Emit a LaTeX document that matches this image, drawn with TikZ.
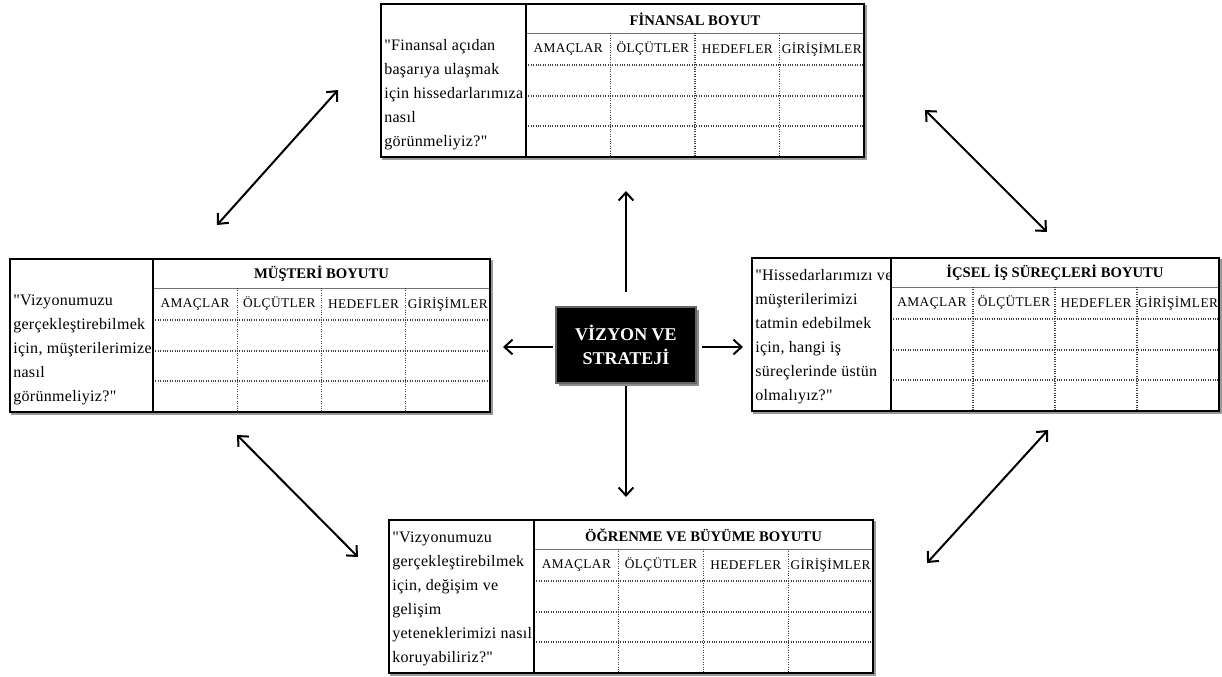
\documentclass[tikz,border=0pt]{standalone}
\usepackage{fontspec}
\setmainfont{Liberation Serif}[Ligatures=TeXOff]
\usetikzlibrary{arrows.meta,shadows}

\begin{document}
\begin{tikzpicture}[x=0.75pt, y=-0.75pt]
    % Style definitions
    \tikzset{
      frame/.style={draw=black, line width=2.2pt},
      frameshadow/.style={draw=black!40, line width=1.2pt},
      divider/.style={draw=black, line width=1.2pt},
      headline/.style={draw=black!55, line width=0.5pt},
      gridline/.style={draw=black!75, line width=0.8pt, densely dotted},
      question/.style={anchor=south west, inner sep=0pt, align=left,
        font=\fontsize{12}{18}\selectfont\addfontfeature{LetterSpace=2}},
      title/.style={inner sep=0pt, font=\fontsize{11}{13}\selectfont\bfseries},
      colhead/.style={inner sep=0pt,
        font=\fontsize{10}{12}\selectfont\addfontfeature{LetterSpace=3}},
      visionbox/.style={fill=black, draw=black!60, line width=0.8pt,
        text=white, align=center, minimum width=105pt, minimum height=57pt,
        font=\fontsize{13.5}{18}\selectfont\bfseries,
        drop shadow={fill=black!45, opacity=1, shadow xshift=2pt, shadow yshift=-2pt}},
      link/.style={-{Straight Barb[length=6pt,width=11pt]}, line width=1.5pt},
      twoway/.style={{Straight Barb[length=6pt,width=11pt]}-{Straight Barb[length=6pt,width=11pt]},
        line width=1.5pt},
    }
    % ------------------------------------------------------------------
    % Helper macro: one scorecard panel named #1, outer box from
    % (#2,#3) to (#4,#3+153), question column ending at x=#5,
    % title #6 and question text #7.
    % ------------------------------------------------------------------
    \newcommand{\bscpanel}[7]{%
      \pgfmathsetmacro{\colw}{(#4-#5)/4}%
      \pgfmathsetmacro{\ybot}{#3+153}%
      \draw[frameshadow] (#2+2,#3+2) rectangle (#4+2,\ybot+2);
      \fill[white] (#2,#3) rectangle (#4,\ybot);
      \draw[headline] (#5,#3+29) -- (#4,#3+29);
      \foreach \ci in {1,2,3}{%
        \draw[gridline] (#5+\ci*\colw,#3+29) -- (#5+\ci*\colw,\ybot);
      }
      \foreach \rowy in {61,92,122}{%
        \draw[gridline] (#5,#3+\rowy) -- (#4,#3+\rowy);
      }
      \draw[divider] (#5,#3) -- (#5,\ybot);
      \draw[frame] (#2,#3) rectangle (#4,\ybot);
      \node[title] (#1-title) at ({(#5+#4)/2},#3+15) {#6};
      \foreach \lbl [count=\ci] in {AMAÇLAR,ÖLÇÜTLER,HEDEFLER,GİRİŞİMLER}{%
        \node[colhead] (#1-c\ci) at ({#5+(\ci-0.5)*\colw},#3+45) {\lbl};
      }
      \node[question] (#1-q) at (#2+3,\ybot-7) {#7};
    }

    \fill[white] (0,0) rectangle (1222,676);
    \useasboundingbox (0,0) rectangle (1222,676);

    % The four perspectives
    \bscpanel{fin}{381}{4}{864}{526}{FİNANSAL BOYUT}
      {"Finansal açıdan\\başarıya ulaşmak\\için hissedarlarımıza\\nasıl\\görünmeliyiz?"}
    \bscpanel{mus}{10}{259}{490}{153}{MÜŞTERİ BOYUTU}
      {"Vizyonumuzu\\gerçekleştirebilmek\\için, müşterilerimize\\nasıl\\görünmeliyiz?"}
    \bscpanel{ics}{752}{258}{1219}{891}{İÇSEL İŞ SÜREÇLERİ BOYUTU}
      {"Hissedarlarımızı ve\\müşterilerimizi\\tatmin edebilmek\\için, hangi iş\\süreçlerinde üstün\\olmalıyız?"}
    \bscpanel{ogr}{389}{520}{873}{534}{ÖĞRENME VE BÜYÜME BOYUTU}
      {"Vizyonumuzu\\gerçekleştirebilmek\\için, değişim ve\\gelişim\\yeteneklerimizi nasıl\\koruyabiliriz?"}

    % Vision and strategy in the middle
    \node[visionbox] (vision) at (626,345) {VİZYON VE\\STRATEJİ};

    % Free arrow ends
    \coordinate (finS) at (626,191);
    \coordinate (ogrN) at (626,497);
    \coordinate (musE) at (503,347);
    \coordinate (icsW) at (743,347);
    \coordinate (musNE) at (217,225);
    \coordinate (finSW) at (338,90);
    \coordinate (finSE) at (925,110);
    \coordinate (icsNW) at (1047,232);
    \coordinate (musSE) at (237,435);
    \coordinate (ogrNW) at (358,557);
    \coordinate (icsSW) at (1048,430);
    \coordinate (ogrNE) at (927,563);

    % Arrows out of the centre
    \draw[link, shorten <=11pt] (vision.north) -- (finS);
    \draw[link, shorten <=2pt] (vision.south) -- (ogrN);
    \draw[link, shorten <=2pt] (vision.west |- musE) -- (musE);
    \draw[link, shorten <=4pt] (vision.east |- icsW) -- (icsW);

    % Links between neighbouring perspectives
    \draw[twoway] (musNE) -- (finSW);
    \draw[twoway] (finSE) -- (icsNW);
    \draw[twoway] (musSE) -- (ogrNW);
    \draw[twoway] (icsSW) -- (ogrNE);
\end{tikzpicture}
\end{document}
